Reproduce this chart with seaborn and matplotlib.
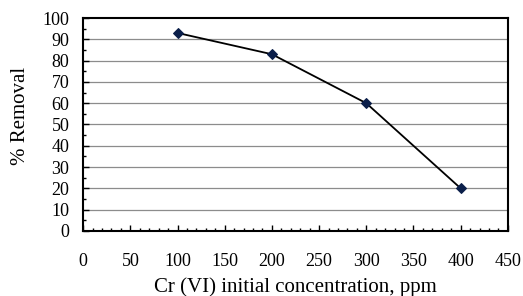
import matplotlib
matplotlib.use("Agg")
import matplotlib.pyplot as plt
import seaborn as sns
import pandas as pd
from matplotlib.ticker import MultipleLocator

concentration = [100, 200, 300, 400]
removal = [93, 83, 60, 20]
x_ticks = [0, 50, 100, 150, 200, 250, 300, 350, 400, 450]
y_ticks = [0, 10, 20, 30, 40, 50, 60, 70, 80, 90, 100]

df = pd.DataFrame({"conc": concentration, "removal": removal})

sns.set_style("white")
plt.rcParams['font.family'] = ['Liberation Serif', 'DejaVu Serif']

fig = plt.figure(figsize=(5.23, 2.96), dpi=100)
ax = fig.add_axes([0.159, 0.220, 0.812, 0.719])

ax.set_xlim(0, 450)
ax.set_ylim(0, 100)
for y in y_ticks[1:-1]:
    ax.axhline(y, color="#8c8c8c", lw=0.9, zorder=0)

sns.lineplot(data=df, x="conc", y="removal", ax=ax, color="black", lw=1.3,
             marker="D", markersize=5, markerfacecolor="#0b1f4a",
             markeredgecolor="#0b1f4a", zorder=3)

ax.set_xticks(x_ticks)
ax.set_yticks(y_ticks)
ax.xaxis.set_minor_locator(MultipleLocator(10))
ax.yaxis.set_minor_locator(MultipleLocator(5))
ax.tick_params(axis="both", which="both", direction="in", labelsize=13,
               color="black", left=True, bottom=True, labelcolor="black")
ax.tick_params(axis="x", which="major", length=4, width=1, pad=16)
ax.tick_params(axis="x", which="minor", length=2.5, width=1)
ax.tick_params(axis="y", which="major", length=4, width=1, pad=10)
ax.tick_params(axis="y", which="minor", length=2.5, width=1)

for s in ax.spines.values():
    s.set_color("black")
    s.set_linewidth(1.5)

ax.set_xlabel("Cr (VI) initial concentration, ppm", fontsize=15, color="black")
ax.xaxis.set_label_coords(0.5, -0.218)
ax.set_ylabel("% Removal", fontsize=15, color="black")
ax.yaxis.set_label_coords(-0.125, 0.54)

fig.savefig("out.png", dpi=100)
